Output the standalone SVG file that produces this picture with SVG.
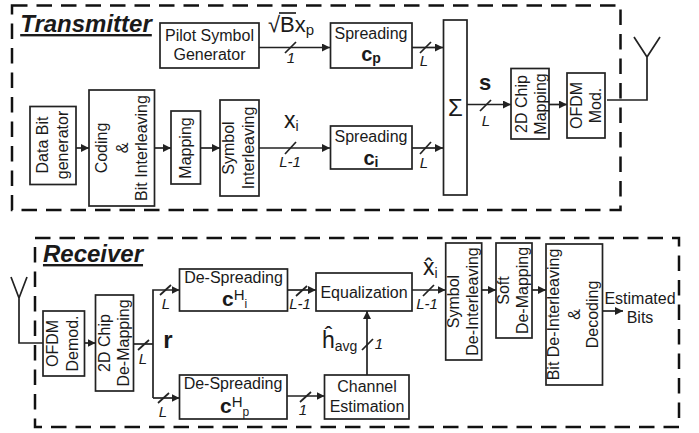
<svg xmlns="http://www.w3.org/2000/svg" width="699" height="433" viewBox="0 0 699 433">
<style>
text{font-family:"Liberation Sans",Arial,sans-serif;font-size:16px;fill:#1a1a1a;text-anchor:middle}
.b{fill:#fff;stroke:#222;stroke-width:1.7}
.f{fill:none;stroke:#111;stroke-width:2.5;stroke-dasharray:15.500 9}
.c{fill:none;stroke:#222;stroke-width:1.7}
.a{fill:none;stroke:#222;stroke-width:1.7;marker-end:url(#m)}
.i{font-style:italic;font-size:15px}
.t{font-style:italic;font-weight:bold;font-size:24px;text-decoration:underline}
.s{text-anchor:start}
.bd{font-weight:bold}
.l{font-size:23px}
.n{font-weight:normal}
</style>
<defs><marker id="m" markerUnits="userSpaceOnUse" markerWidth="9" markerHeight="8" refX="8" refY="4" orient="auto"><path d="M0 0L8 4L0 8Z" fill="#222"/></marker></defs>
<rect width="699" height="433" fill="#fff"/>
<g id="frames">
<rect class="f" x="12" y="5.500" width="608.500" height="204.500"/>
<rect class="f" x="35" y="238" width="644" height="189"/>
</g>
<g id="connectors">
<path class="a" d="M259 47.500H330"/><path class="c" d="M285 53L296 42"/>
<path class="a" d="M412 47.500H443"/><path class="c" d="M420 53L431 42"/>
<path class="a" d="M76 148H89"/>
<path class="a" d="M154.500 148H171"/>
<path class="a" d="M200.500 148H220"/>
<path class="a" d="M259 148H330"/><path class="c" d="M285 154L296 142"/>
<path class="a" d="M412 148H443"/><path class="c" d="M420 154L431 142"/>
<path class="a" d="M467 104.500H511"/><path class="c" d="M480 111L491 100"/>
<path class="a" d="M549 104.500H567"/>
<path class="c" d="M607 100H647V57M647 57L634 37M647 57L660 37"/>
<path class="c" d="M43 343H19V298M19 298L11 277M19 298L27 277"/>
<path class="a" d="M84.500 343H95.500"/>
<path class="c" d="M133.500 344H153"/><path class="c" d="M138 350L149 340"/>
<path class="a" d="M153 398V290H179.500"/><path class="c" d="M160 295L171 285"/>
<path class="a" d="M153 398H179.500"/><path class="c" d="M158 403L169 393"/>
<path class="a" d="M287.500 290H316"/><path class="c" d="M296 296L307 286"/>
<path class="a" d="M287 396H324.500"/><path class="c" d="M300 402L311 392"/>
<path class="a" d="M367 375V311"/><path class="c" d="M362 350L373 339"/>
<path class="a" d="M412 290H445.500"/><path class="c" d="M423 296L434 285"/>
<path class="a" d="M481.500 290H496"/>
<path class="a" d="M532 290H546"/>
<path class="a" d="M602.500 311H623"/>
<path class="c" d="M279 13H296"/>
</g>
<g id="title-tx"><text class="t" x="86" y="32">Transmitter</text></g>
<g id="title-rx"><text class="t" x="93" y="262">Receiver</text></g>
<g id="pilot"><rect class="b" x="160" y="23" width="99" height="45"/><text x="209.500" y="41">Pilot Symbol</text><text x="209.500" y="60">Generator</text></g>
<g id="spread-p"><rect class="b" x="330.500" y="23" width="81.500" height="45"/><text x="371" y="39">Spreading</text><text x="371" y="61" class="bd" style="font-size:20px">c<tspan style="font-size:14px" dy="2">p</tspan></text></g>
<g id="spread-i"><rect class="b" x="330.500" y="126" width="81.500" height="43"/><text x="371" y="142">Spreading</text><text x="371" y="165" class="bd" style="font-size:20px">c<tspan style="font-size:14px" dy="2">i</tspan></text></g>
<g id="sum"><rect class="b" x="443.500" y="20" width="23.500" height="175"/><text x="455.500" y="116" style="font-size:24px">Σ</text></g>
<g id="chip-map"><rect class="b" x="511" y="68.500" width="38" height="70.500"/><text transform="translate(527 104) rotate(-90)">2D Chip</text><text transform="translate(546 104) rotate(-90)">Mapping</text></g>
<g id="ofdm-mod"><rect class="b" x="567" y="73" width="38" height="65"/><text transform="translate(582 105.500) rotate(-90)">OFDM</text><text transform="translate(601 105.500) rotate(-90)">Mod.</text></g>
<g id="data-bit"><rect class="b" x="30" y="106.500" width="46" height="78"/><text transform="translate(48 145) rotate(-90)">Data Bit</text><text transform="translate(68 145) rotate(-90)">generator</text></g>
<g id="coding"><rect class="b" x="89" y="90" width="65.500" height="116"/><text transform="translate(107 148) rotate(-90)">Coding</text><text transform="translate(128 148) rotate(-90)">&amp;</text><text transform="translate(147 148) rotate(-90)">Bit Interleaving</text></g>
<g id="mapping"><rect class="b" x="171" y="111" width="29.500" height="73"/><text transform="translate(191 148) rotate(-90)">Mapping</text></g>
<g id="sym-int"><rect class="b" x="220" y="100" width="39" height="96"/><text transform="translate(234 148) rotate(-90)">Symbol</text><text transform="translate(254 148) rotate(-90)">Interleaving</text></g>
<g id="ofdm-demod"><rect class="b" x="43" y="311" width="41.500" height="65"/><text transform="translate(58 343.500) rotate(-90)">OFDM</text><text transform="translate(78 343.500) rotate(-90)">Demod.</text></g>
<g id="chip-demap"><rect class="b" x="95.500" y="295" width="38" height="96"/><text transform="translate(110 343) rotate(-90)">2D Chip</text><text transform="translate(129 343) rotate(-90)">De-Mapping</text></g>
<g id="despread-i"><rect class="b" x="179.500" y="269" width="108" height="42"/><text x="233.500" y="283">De-Spreading</text><text x="222" y="306" class="bd s" style="font-size:21px">c<tspan class="n" style="font-size:15px" dy="-6">H</tspan><tspan class="n" style="font-size:12px" dy="8">i</tspan></text></g>
<g id="despread-p"><rect class="b" x="179.500" y="375" width="107.500" height="44"/><text x="233" y="389">De-Spreading</text><text x="220" y="413" class="bd s" style="font-size:21px">c<tspan class="n" style="font-size:15px" dy="-6">H</tspan><tspan class="n" style="font-size:12px" dy="9">p</tspan></text></g>
<g id="equal"><rect class="b" x="316" y="273" width="96" height="38"/><text x="364" y="298">Equalization</text></g>
<g id="channel"><rect class="b" x="324.500" y="375" width="84.500" height="44"/><text x="367" y="392">Channel</text><text x="367" y="412">Estimation</text></g>
<g id="sym-deint"><rect class="b" x="445.700" y="243" width="36" height="117"/><text transform="translate(459 301.500) rotate(-90)">Symbol</text><text transform="translate(478 301.500) rotate(-90)">De-Interleaving</text></g>
<g id="soft"><rect class="b" x="496" y="243" width="36" height="95"/><text transform="translate(509 290.500) rotate(-90)">Soft</text><text transform="translate(528 290.500) rotate(-90)">De-Mapping</text></g>
<g id="bit-deint"><rect class="b" x="546" y="244" width="56.500" height="141"/><text transform="translate(559 314.500) rotate(-90)">Bit De-Interleaving</text><text transform="translate(580 314.500) rotate(-90)">&amp;</text><text transform="translate(598 314.500) rotate(-90)">Decoding</text></g>
<g id="labels">
<text class="i" x="291" y="63">1</text><text class="i" x="424" y="66">L</text>
<text class="i" x="290" y="167">L-1</text><text class="i" x="424" y="168">L</text>
<text class="i" x="486" y="126">L</text>
<text class="i" x="143" y="364">L</text><text class="i" x="166" y="309">L</text><text class="i" x="163" y="417">L</text>
<text class="i" x="300" y="309">L-1</text><text class="i" x="303" y="415">1</text>
<text class="i" x="379" y="349">1</text><text class="i" x="427" y="309">L-1</text>
<text x="268" y="32" class="s" style="font-size:22px">√Bx<tspan style="font-size:15px" dy="3">p</tspan></text>
<text x="284" y="128" class="s l">x<tspan style="font-size:14px" dy="3">i</tspan></text>
<text x="485" y="90" class="bd" style="font-size:22px">s</text>
<text x="168" y="348" class="bd" style="font-size:24px">r</text>
<text x="322" y="348" class="s" style="font-size:23px">ĥ<tspan style="font-size:14px" dy="3">avg</tspan></text>
<text x="423" y="275" class="s" style="font-size:23px">x̂<tspan style="font-size:14px" dy="3">i</tspan></text>
<text x="640" y="304">Estimated</text><text x="640" y="323">Bits</text>
</g>
</svg>
